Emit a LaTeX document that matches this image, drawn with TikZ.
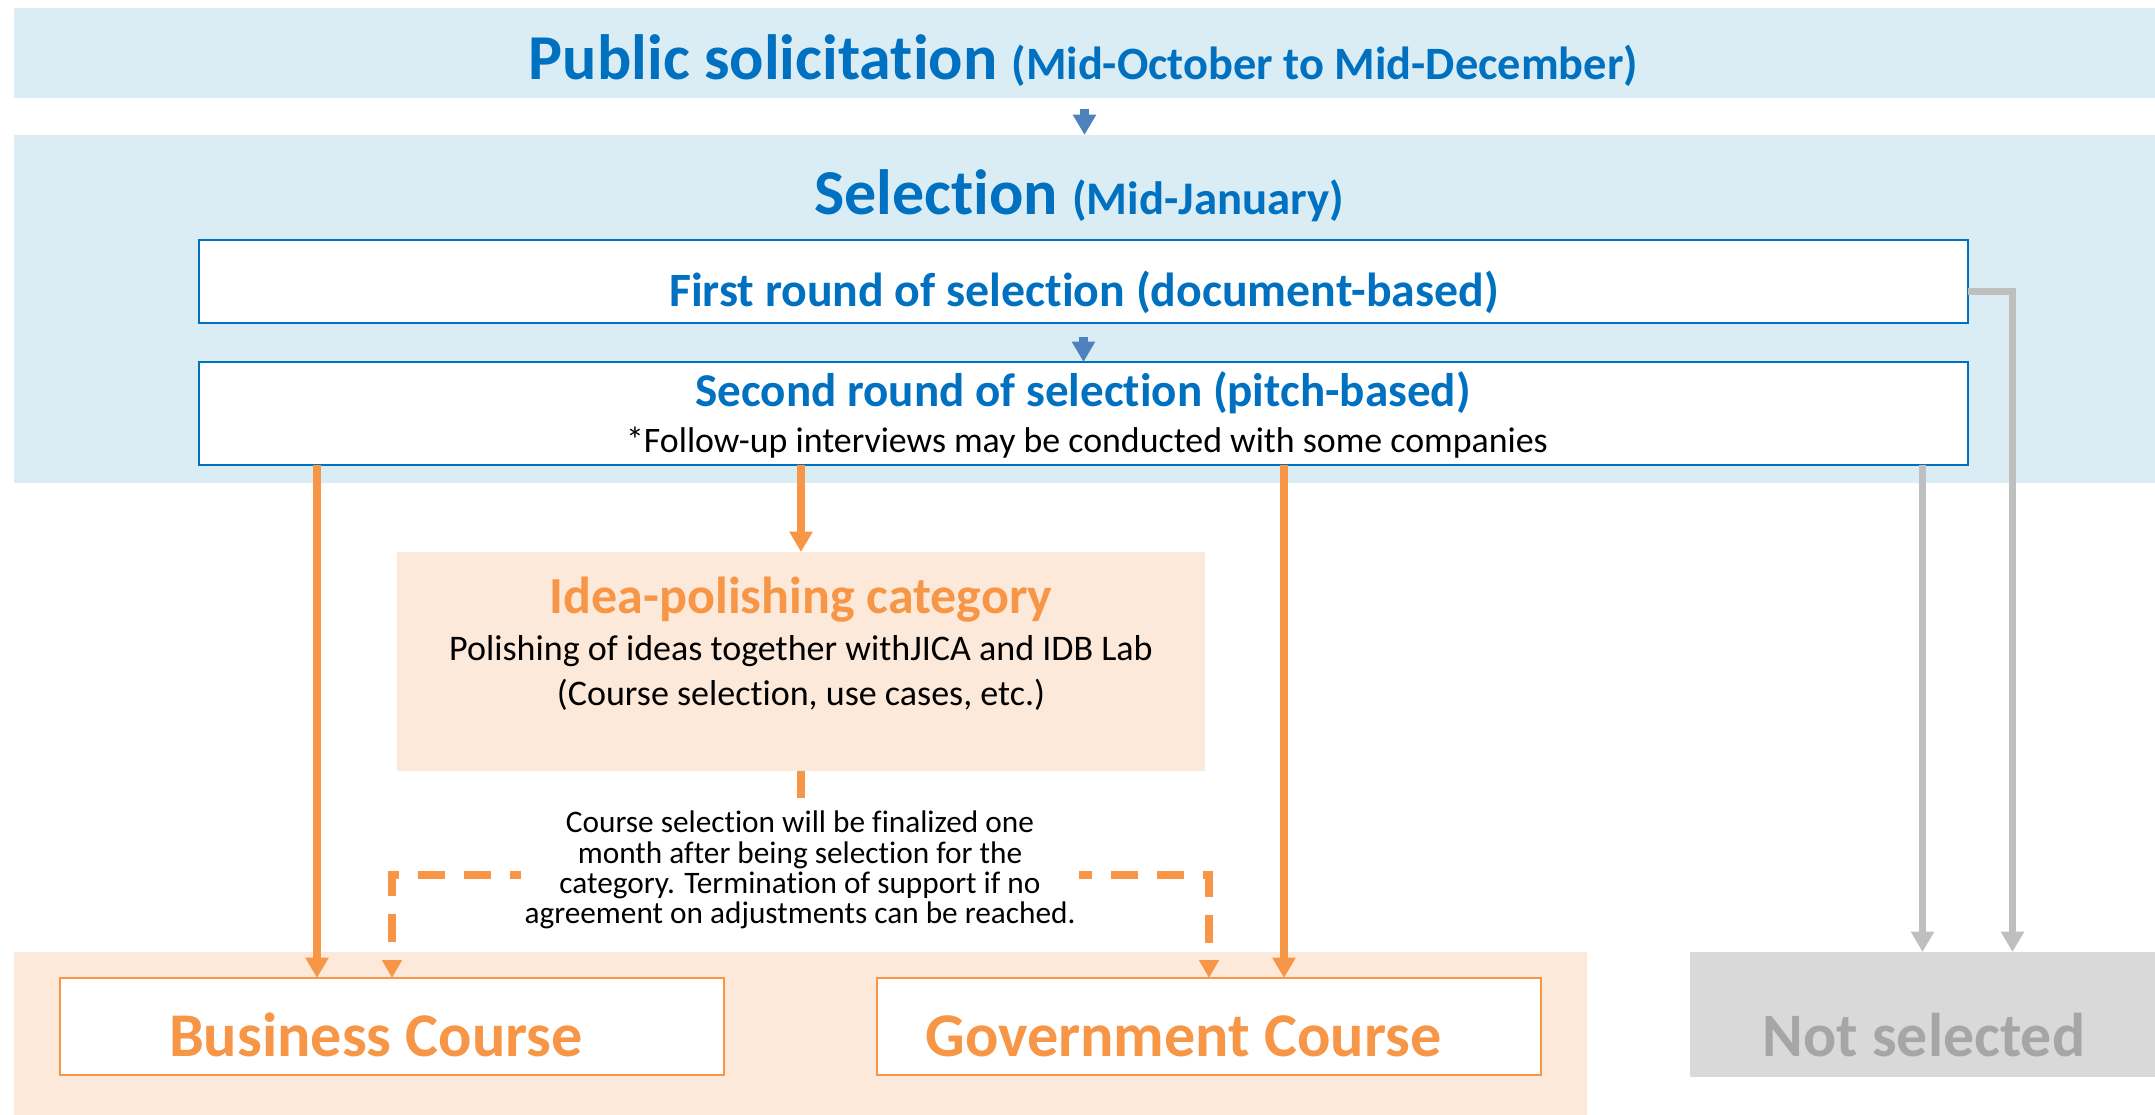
\documentclass[tikz,border=0pt]{standalone}
\usepackage{fontspec}
\setmainfont{Carlito}[Ligatures=CommonOff]
\usepackage{tikz}
\usetikzlibrary{positioning, arrows.meta, calc}
\definecolor{bandblue}{HTML}{DAEDF4}
\definecolor{titleblue}{HTML}{0070C0}
\definecolor{arrowblue}{HTML}{4F81BD}
\definecolor{courseorange}{HTML}{F79646}
\definecolor{bandpeach}{HTML}{FCE9DA}
\definecolor{rejectgray}{HTML}{BFBFBF}
\definecolor{rejectfill}{HTML}{D9D9D9}
\definecolor{rejecttext}{HTML}{A6A6A6}
\setlength{\lineskiplimit}{-10pt}

\begin{document}
\begin{tikzpicture}[>={Triangle[width=6.3pt,length=5.8pt]},
    band/.style={fill=#1, inner sep=0pt, outer sep=0pt},
    bluebox/.style={draw=titleblue, line width=0.8pt, fill=white, inner sep=0pt, outer sep=0pt},
    coursebox/.style={draw=courseorange, line width=0.8pt, fill=white, inner sep=0pt, outer sep=0pt},
    txt/.style={inner sep=0pt, anchor=base},
    bluearrow/.style={draw=arrowblue, line width=2.3pt},
    orangeline/.style={draw=courseorange, line width=2pt},
    dashline/.style={draw=courseorange, line width=2pt, dash pattern=on 7.7pt off 5.4pt},
    grayline/.style={draw=rejectgray, line width=2pt}]
    \useasboundingbox (0,0) rectangle (21.55,-11.15);

    % bands and boxes
    \node[band=bandblue, minimum width=21.41cm, minimum height=0.90cm] (pubBand) at (10.845,-0.53) {};
    \node[band=bandblue, minimum width=21.41cm, minimum height=3.48cm] (selBand) at (10.845,-3.09) {};
    \node[band=bandpeach, minimum width=15.73cm, minimum height=1.63cm] (courseBand) at (8.005,-10.335) {};
    \node[band=rejectfill, minimum width=4.65cm, minimum height=1.25cm] (notSel) at (19.225,-10.145) {};
    \node[bluebox, minimum width=17.69cm, minimum height=0.83cm] (firstBox) at (10.835,-2.815) {};
    \node[bluebox, minimum width=17.69cm, minimum height=1.03cm] (secondBox) at (10.835,-4.135) {};
    \node[band=bandpeach, minimum width=8.08cm, minimum height=2.19cm] (ideaBox) at (8.01,-6.615) {};
    \node[coursebox, minimum width=6.64cm, minimum height=0.97cm] (busBox) at (3.92,-10.265) {};
    \node[coursebox, minimum width=6.64cm, minimum height=0.97cm] (govBox) at (12.09,-10.265) {};

    % texts
    \node[txt, text=titleblue, font=\bfseries] (pubTitle) at (10.835,-0.80)
        {\fontsize{18.2}{20}\selectfont Public solicitation \fontsize{13.2}{15}\selectfont(Mid-October to Mid-December)};
    \node[txt, text=titleblue, font=\bfseries] (selTitle) at (10.79,-2.15)
        {\fontsize{18.2}{20}\selectfont Selection \fontsize{13.3}{15}\selectfont(Mid-January)};
    \node[txt, text=titleblue, font=\bfseries\fontsize{13.6}{15}\selectfont] (firstText) at (10.84,-3.07) {First round of selection (document-based)};
    \node[txt, text=titleblue, font=\bfseries\fontsize{13.4}{15}\selectfont] (secondText) at (10.83,-4.07) {Second round of selection (pitch-based)};
    \node[txt, font=\fontsize{10.2}{12}\selectfont] (secondNote) at (10.87,-4.53) {*Follow-up interviews may be conducted with some companies};
    \node[txt, text=courseorange, font=\bfseries\fontsize{14.8}{17}\selectfont] (ideaTitle) at (8.01,-6.14) {Idea-polishing category};
    \node[txt, font=\fontsize{10.25}{12}\selectfont] (ideaLine1) at (8.01,-6.61) {Polishing of ideas together withJICA and IDB Lab};
    \node[txt, font=\fontsize{10.25}{12}\selectfont] (ideaLine2) at (8.01,-7.06) {(Course selection, use cases, etc.)};
    \node[txt, text=courseorange, font=\bfseries\fontsize{17.7}{20}\selectfont] (busText) at (3.76,-10.57) {Business Course};
    \node[txt, text=courseorange, font=\bfseries\fontsize{17.7}{20}\selectfont] (govText) at (11.835,-10.57) {Government Course};
    \node[txt, text=rejecttext, font=\bfseries\fontsize{17.6}{20}\selectfont] (notSelText) at (19.24,-10.57) {Not selected};

    % connectors
    \coordinate (busIn) at ([xshift=-7.5mm]busBox.north);
    \coordinate (govIn) at ([xshift=7.5mm]govBox.north);
    \coordinate (rejIn) at ([xshift=9mm]notSel.north);
    \coordinate (split) at (8.01,-8.75);

    \draw[bluearrow, ->, shorten <=1.1mm] (pubBand.south) -- (selBand.north);
    \draw[bluearrow, ->, shorten <=1.4mm] (firstBox.south) -- (secondBox.north);
    \path[->]
    (secondBox.south -| busIn) edge [orangeline] (busIn)
    (secondBox.south -| ideaBox.north) edge [orangeline] (ideaBox.north)
    (secondBox.south -| govIn) edge [orangeline] (govIn)
    (secondBox.south -| notSel.north) edge [grayline] (notSel.north)
    ;
    \draw[grayline, ->] ([yshift=-1mm]firstBox.east) -| (rejIn);
    \draw[dashline, -{Triangle[width=5.4pt,length=5.1pt]}] (ideaBox.south) -- (split) -| (busBox.north);
    \draw[dashline, -{Triangle[width=5.4pt,length=5.1pt]}] (ideaBox.south) -- (split) -| (govBox.north);

    \node[fill=white, inner sep=1pt, align=center, font=\fontsize{8.9}{8.6}\selectfont] (noteText) at (8.00,-8.70)
        {Course selection will be finalized one\\ month after being selection for the\\ category. Termination of support if no\\ agreement on adjustments can be reached.};
\end{tikzpicture}
\end{document}
